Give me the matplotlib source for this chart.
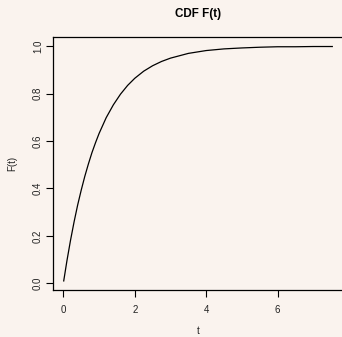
import matplotlib
matplotlib.use("Agg")
import matplotlib.pyplot as plt

# Cumulative distribution values F(t) of the lifetime model
t_values = [0.01, 0.1, 0.2, 0.3, 0.4, 0.5, 0.6, 0.7, 0.8, 0.9, 1.0,
            1.2, 1.4, 1.6, 1.8, 2.0, 2.25, 2.5, 2.75, 3.0, 3.5,
            4.0, 4.5, 5.0, 5.5, 6.0, 6.5, 7.0, 7.53]
f_values = [0.010, 0.095, 0.181, 0.259, 0.330, 0.393, 0.451, 0.503, 0.551,
            0.593, 0.632, 0.699, 0.753, 0.798, 0.835, 0.865, 0.895, 0.918,
            0.936, 0.950, 0.970, 0.982, 0.989, 0.993, 0.996, 0.998, 0.998,
            0.999, 0.999]
x_ticks = [0, 2, 4, 6]
y_ticks = [0.0, 0.2, 0.4, 0.6, 0.8, 1.0]
y_tick_labels = ["0.0", "0.2", "0.4", "0.6", "0.8", "1.0"]

bg = "#faf3ee"
plt.rcParams["font.family"] = ["Liberation Sans", "DejaVu Sans"]

W, H = 342, 337
fig = plt.figure(figsize=(W / 100, H / 100), dpi=100, facecolor=bg)
ax = fig.add_axes([53 / W, 1 - 290.4 / H, 290 / W, (290.4 - 36.8) / H])
ax.set_facecolor(bg)

ax.plot(t_values, f_values, color="black", lw=0.9)

ax.set_xlim(-0.29, 7.83)
ax.set_ylim(-0.03, 1.04)

ax.set_xticks(x_ticks)
ax.set_xticklabels([str(v) for v in x_ticks])
ax.set_yticks(y_ticks)
ax.set_yticklabels(y_tick_labels, rotation=90, va="center")

ax.tick_params(axis="both", direction="out", length=4.8, width=0.8,
               labelsize=7, colors="black", labelcolor="#222222")
ax.tick_params(axis="x", pad=6)
ax.tick_params(axis="y", pad=2.5)

for s in ax.spines.values():
    s.set_linewidth(0.9)
    s.set_color("black")

ax.set_title("CDF F(t)", fontsize=8.4, fontweight="bold", pad=14)

# Axis labels placed in figure pixels so they sit in the outer margins
fig.text(198 / W, 1 - 331 / H, "t", fontsize=7, ha="center", va="center",
         color="#222222")
fig.text(12 / W, 1 - 163 / H, "F(t)", fontsize=7, ha="center", va="center",
         rotation=90, color="#222222")

fig.savefig("out.png", dpi=100, facecolor=bg)
